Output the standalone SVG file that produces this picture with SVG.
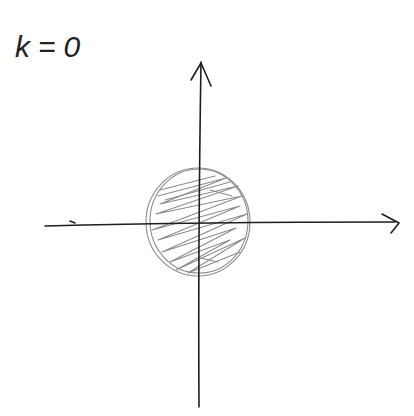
<svg xmlns="http://www.w3.org/2000/svg" width="414" height="416" viewBox="0 0 414 416">
<style>
.ink{fill:none;stroke:#1e1e1e;stroke-width:1.6;stroke-linecap:round;stroke-linejoin:round}
.pencil{fill:none;stroke:#8c8c8c;stroke-width:1.1;stroke-linecap:round;stroke-linejoin:round}
.label{font-family:"Liberation Sans",sans-serif;font-style:italic;font-size:30px;letter-spacing:8px;fill:#222}
</style>
<rect width="414" height="416" fill="#fff"/>
<g id="label">
<text class="label" x="15" y="57">k=0</text>
</g>
<g id="disk">
<ellipse class="pencil" cx="198" cy="222" rx="52" ry="54"/>
<ellipse class="pencil" cx="199" cy="221" rx="49" ry="52"/>
<path class="pencil" d="M158,196 L226,178 L160,204 L238,186 L156,214 L242,196 L152,230 L240,206 L158,240 L247,214 L162,252 L236,228 L170,262 L230,240 L176,270 L245,238 L188,273 L240,252"/>
<path class="pencil" d="M160,190 L215,176 M165,200 L230,182 M210,190 L232,196 M200,258 L218,262"/>
</g>
<g id="connectors">
<path class="ink" d="M45,226 Q200,222 395,222"/>
<path class="ink" d="M382,214 L399,223 L391,233"/>
<path class="ink" d="M70,221 L75,223"/>
<path class="ink" d="M199,407 Q198,250 201,62"/>
<path class="ink" d="M191,80 L201,63 L211,86"/>
</g>
</svg>
